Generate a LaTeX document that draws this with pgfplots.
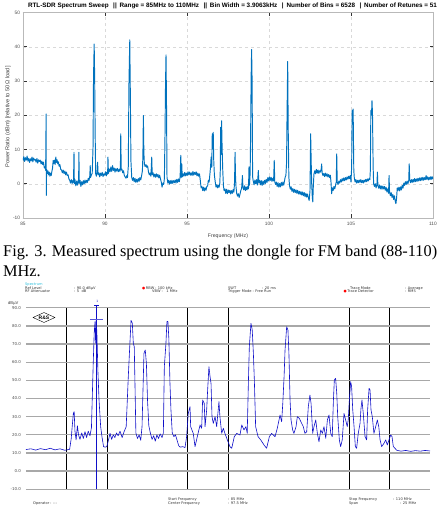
\documentclass[border=0pt]{standalone}
\usepackage{pgfplots}
\pgfplotsset{compat=1.18}
\usepackage{fontspec}
\setmainfont{Liberation Sans}
\newfontfamily\capfont{Liberation Serif}
\newfontfamily\dvfont{DejaVu Sans}
\usetikzlibrary{shapes.geometric}
\definecolor{mblue}{RGB}{0,114,189}
\definecolor{rsblue}{RGB}{15,15,200}
\definecolor{rsgrid}{RGB}{168,168,168}
\definecolor{rscyan}{RGB}{40,190,220}

\begin{document}
\begin{tikzpicture}[x=1pt,y=1pt]
\path[use as bounding box] (0pt,0pt) rectangle (440pt,512pt);

% ---------------- RTL-SDR sweep ----------------
\begin{axis}[
  at={(23pt,294pt)}, anchor=south west, scale only axis,
  width=410pt, height=205.5pt,
  xmin=85, xmax=110, ymin=-10, ymax=50,
  xtick={85,90,...,110}, ytick={-10,0,...,50},
  grid=major,
  major grid style={dashed, gray!30, line width=0.35pt},
  axis line style={gray!55, line width=0.4pt},
  tick align=inside, major tick length=3.5pt,
  tick style={black!80, line width=0.5pt},
  ticklabel style={font=\fontsize{4.8}{5}\selectfont, text=black!70},
  /pgf/number format/assume math mode=true,
  xticklabel style={yshift=-1pt},
  yticklabel style={xshift=0.5pt},
]
\addplot[mblue, line width=0.95pt, line join=round] coordinates {
(85.00,6.8) (85.05,7.9) (85.10,6.5) (85.15,7.6) (85.20,6.9) (85.25,8.1) (85.30,6.6) (85.35,7.4) (85.40,6.2) (85.45,7.3)
(85.50,6.7) (85.55,7.8) (85.60,6.4) (85.65,7.5) (85.70,6.9) (85.75,7.1) (85.80,6.3) (85.85,7.4) (85.90,6.0) (85.95,7.0)
(86.00,6.5) (86.05,6.9) (86.10,5.8) (86.15,6.6) (86.20,5.6) (86.25,6.3) (86.30,4.6) (86.35,5.0) (86.38,3.9)
(86.41,20.4) (86.42,-3.4) (86.44,4.2)
(86.48,3.0) (86.52,3.8) (86.56,2.6) (86.60,3.4) (86.64,2.2) (86.68,3.1) (86.72,2.4) (86.76,3.6) (86.80,4.5) (86.84,6.8)
(86.88,5.9) (86.92,6.9) (86.96,5.6) (87.00,7.8) (87.04,6.2) (87.08,7.0) (87.12,5.8) (87.16,6.4) (87.20,5.1) (87.25,5.6)
(87.30,4.2) (87.35,4.0) (87.40,3.2) (87.45,4.0) (87.50,3.0) (87.55,3.7) (87.60,2.6) (87.65,3.4) (87.70,2.4) (87.75,2.6)
(87.80,1.4) (87.85,1.0) (87.90,0.2) (87.95,1.2) (88.00,0.1) (88.05,1.0) (88.08,0.4) (88.11,9.2) (88.13,0.0) (88.17,1.2)
(88.22,-0.6) (88.27,0.8) (88.32,-0.4) (88.36,0.9) (88.39,0.2) (88.41,9.2) (88.43,0.1) (88.48,1.0) (88.53,-0.8) (88.58,0.6)
(88.63,-0.3) (88.68,0.9) (88.73,0.0) (88.78,1.1) (88.83,0.2) (88.88,1.0) (88.93,0.4) (88.98,1.6) (89.03,1.0) (89.07,2.2)
(89.10,5.3) (89.12,1.8) (89.17,2.6) (89.22,3.0) (89.27,10.7) (89.30,31) (89.34,40.8) (89.37,31) (89.40,14.6) (89.43,3.0)
(89.47,2.2) (89.52,3.4) (89.55,6.3) (89.58,2.6) (89.63,3.2) (89.68,2.0) (89.73,3.1) (89.78,2.4) (89.83,3.3) (89.88,2.1)
(89.93,2.9) (89.98,2.5) (90.03,3.5) (90.08,2.3) (90.12,3.4) (90.16,2.8) (90.18,7.8) (90.21,3.0) (90.26,4.3) (90.31,3.5)
(90.36,4.9) (90.41,3.6) (90.46,5.3) (90.51,3.9) (90.56,4.6) (90.61,3.4) (90.66,4.4) (90.71,3.7) (90.76,4.5) (90.81,3.5)
(90.86,4.2) (90.91,3.6) (90.94,5.0) (90.96,14.6) (90.99,4.0) (91.03,4.3) (91.08,3.2) (91.13,3.8) (91.18,2.4) (91.23,2.0)
(91.28,1.6) (91.33,2.4) (91.37,1.8) (91.42,5.0) (91.46,29) (91.51,42) (91.55,24) (91.58,6.8) (91.63,1.8) (91.68,1.0)
(91.73,1.8) (91.78,0.6) (91.83,1.6) (91.88,0.4) (91.93,1.3) (91.98,0.5) (92.03,1.5) (92.08,0.7) (92.13,1.8) (92.18,1.1)
(92.23,2.3) (92.28,3.8) (92.31,8.0) (92.34,19.9) (92.37,9.2) (92.40,5.8) (92.45,5.0) (92.50,5.6) (92.55,4.8) (92.60,5.2)
(92.65,3.5) (92.70,2.6) (92.75,3.1) (92.80,2.2) (92.85,7.8) (92.88,2.6) (92.93,3.2) (92.98,2.0) (93.03,2.8) (93.08,1.9)
(93.13,2.9) (93.18,2.0) (93.23,2.7) (93.28,1.7) (93.33,2.5) (93.38,1.5) (93.43,0.5) (93.48,-1.0) (93.53,0.2) (93.58,-0.2)
(93.62,1.5) (93.66,14.6) (93.69,29) (93.72,37.6) (93.75,24) (93.78,1.9) (93.83,0.2) (93.88,1.0) (93.93,-0.1) (93.98,0.9)
(94.03,0.0) (94.08,1.0) (94.13,0.1) (94.18,0.9) (94.23,0.3) (94.28,1.1) (94.33,0.2) (94.38,1.3) (94.43,0.4) (94.48,1.4)
(94.53,0.6) (94.58,2.0) (94.62,8.3) (94.65,1.8) (94.68,5.8) (94.71,2.0) (94.76,2.9) (94.81,2.2) (94.86,3.3) (94.91,2.3)
(94.96,3.1) (95.01,2.4) (95.06,3.5) (95.11,2.6) (95.16,3.4) (95.21,2.5) (95.26,3.2) (95.31,2.4) (95.36,3.6) (95.41,2.5)
(95.46,3.3) (95.51,2.7) (95.56,3.5) (95.61,2.3) (95.66,3.1) (95.71,2.2) (95.76,2.9) (95.81,1.0) (95.86,-1.2) (95.91,-0.8)
(95.96,-2.0) (96.01,-1.0) (96.06,-2.1) (96.11,-1.2) (96.16,-1.9) (96.21,-0.8) (96.26,-0.6) (96.30,1.0) (96.35,0.5) (96.40,3.0)
(96.44,5.2) (96.47,7.8) (96.51,4.8) (96.54,14.6) (96.57,10.2) (96.60,15.0) (96.63,6.8) (96.67,2.5) (96.72,0.6) (96.77,-1.0)
(96.82,-0.3) (96.87,-1.2) (96.92,-0.4) (96.96,-1.0) (97.00,0.2) (97.03,4.0) (97.05,16.5) (97.08,8.5) (97.11,18.4) (97.14,10.7)
(97.18,3.9) (97.22,-0.5) (97.26,-2.0) (97.31,-1.5) (97.36,-2.8) (97.41,-1.6) (97.46,-2.9) (97.51,-1.8) (97.56,-2.6) (97.61,-1.9)
(97.66,-3.0) (97.71,-2.0) (97.76,-2.8) (97.81,-1.7) (97.86,-2.5) (97.90,0.5) (97.93,9.2) (97.96,1.9) (97.99,-1.0) (98.03,-2.8)
(98.08,-3.6) (98.13,-2.9) (98.18,-4.0) (98.23,-3.1) (98.28,-2.0) (98.33,-1.4) (98.38,2.4) (98.41,-1.0) (98.46,-1.8) (98.51,-0.6)
(98.56,-2.0) (98.61,-0.9) (98.66,-1.8) (98.71,-0.7) (98.75,-1.5) (98.78,4.9) (98.81,-0.4) (98.85,3.0) (98.88,14.6) (98.91,31)
(98.94,39.2) (98.97,30) (99.00,2.0) (99.04,0.8) (99.09,-0.3) (99.14,1.1) (99.19,0.0) (99.24,1.2) (99.29,-0.4) (99.35,3.9)
(99.38,0.2) (99.43,1.0) (99.48,-0.3) (99.53,0.9) (99.58,-0.5) (99.63,0.8) (99.68,-0.2) (99.73,1.0) (99.78,0.1) (99.83,1.3)
(99.88,0.4) (99.93,1.8) (99.98,0.8) (100.03,2.0) (100.08,1.0) (100.13,1.9) (100.18,0.7) (100.23,1.6) (100.28,0.8) (100.32,6.8)
(100.35,0.6) (100.40,-0.2) (100.45,0.5) (100.50,-0.8) (100.55,0.3) (100.60,-1.0) (100.65,0.1) (100.70,-0.9) (100.75,0.4) (100.80,-0.6)
(100.85,0.5) (100.90,-0.4) (100.95,1.0) (100.99,2.0) (101.03,2.4) (101.07,6.0) (101.10,20) (101.14,35.7) (101.17,16.5) (101.21,2.0)
(101.25,-0.5) (101.30,-1.6) (101.35,-0.9) (101.40,-2.2) (101.45,-1.4) (101.50,-2.5) (101.55,-1.6) (101.60,-2.6) (101.65,-1.8) (101.70,-2.8)
(101.75,-1.9) (101.80,-3.0) (101.85,-2.2) (101.90,-3.1) (101.95,-2.3) (102.00,-3.3) (102.05,-2.4) (102.10,-3.5) (102.15,-2.6) (102.20,-3.8)
(102.25,-2.8) (102.30,-3.9) (102.35,-3.0) (102.40,-4.1) (102.45,-4.9) (102.50,-2.0) (102.54,14.6) (102.57,7.0) (102.60,0.5) (102.64,-4.0)
(102.67,-5.3) (102.70,-1.0) (102.74,2.8) (102.79,3.8) (102.84,2.9) (102.89,4.2) (102.94,3.1) (102.99,4.0) (103.04,3.0) (103.09,3.8)
(103.14,3.4) (103.19,4.5) (103.21,5.8) (103.24,3.2) (103.29,2.4) (103.34,3.0) (103.39,2.1) (103.44,3.1) (103.49,2.2) (103.54,2.9)
(103.59,2.0) (103.64,2.7) (103.69,1.8) (103.74,2.5) (103.78,0.5) (103.82,-2.9) (103.86,-1.2) (103.91,-2.0) (103.96,-0.8) (104.01,-1.5)
(104.06,-0.4) (104.10,0.5) (104.13,8.7) (104.16,0.5) (104.21,-0.2) (104.26,0.8) (104.31,0.2) (104.36,1.2) (104.41,0.5) (104.46,1.5)
(104.51,0.8) (104.56,1.7) (104.61,0.9) (104.66,1.8) (104.71,1.1) (104.76,2.0) (104.81,1.3) (104.86,2.2) (104.91,1.5) (104.96,2.4)
(105.00,0.5) (105.04,5.0) (105.07,21.4) (105.10,18.0) (105.13,21.8) (105.17,4.0) (105.20,1.8) (105.25,0.5) (105.30,1.2) (105.35,0.2)
(105.40,1.0) (105.45,0.3) (105.50,1.1) (105.55,0.4) (105.60,1.2) (105.65,0.3) (105.70,1.0) (105.75,0.2) (105.80,1.1) (105.85,0.5)
(105.90,1.3) (105.95,0.6) (106.00,1.4) (106.05,0.8) (106.10,1.5) (106.15,1.2) (106.18,4.0) (106.21,21.4) (106.25,20.0) (106.28,24.3)
(106.31,20.5) (106.35,4.9) (106.38,0.0) (106.43,-0.8) (106.48,0.0) (106.53,-1.2) (106.58,-0.3) (106.61,3.4) (106.64,-0.5) (106.69,-1.3)
(106.74,-0.4) (106.79,-1.5) (106.84,-0.6) (106.89,-1.6) (106.94,-0.7) (106.99,-1.5) (107.04,-0.8) (107.09,-1.9) (107.14,-1.0) (107.19,-2.4)
(107.24,-1.5) (107.29,-2.8) (107.32,2.4) (107.35,-2.2) (107.40,-3.5) (107.45,-2.6) (107.50,-4.0) (107.55,-3.1) (107.60,-4.6) (107.65,-3.5)
(107.70,-5.2) (107.74,-5.8) (107.78,-4.2) (107.82,-1.2) (107.87,-2.0) (107.92,-1.0) (107.97,-2.1) (108.02,-0.9) (108.07,-1.8) (108.12,-0.5)
(108.17,-1.3) (108.22,0.2) (108.27,-0.5) (108.32,0.6) (108.37,-0.2) (108.42,0.8) (108.47,0.0) (108.52,1.0) (108.55,5.8) (108.58,1.2)
(108.63,0.3) (108.68,1.2) (108.73,0.4) (108.78,1.3) (108.83,0.5) (108.88,1.5) (108.93,0.6) (108.98,1.4) (109.03,0.7) (109.08,1.6)
(109.13,0.8) (109.18,1.7) (109.23,0.9) (109.28,1.8) (109.33,1.0) (109.38,1.9) (109.43,1.0) (109.48,1.8) (109.53,1.2) (109.58,2.4)
(109.62,1.3) (109.67,2.0) (109.72,1.1) (109.77,1.9) (109.82,1.2) (109.87,2.1) (109.92,1.3) (109.96,2.0) (110.00,1.4)
};
\end{axis}

% titles and labels of the sweep
\node[anchor=center, inner sep=0] at (232.5pt,506.5pt) {\resizebox{409pt}{!}{\bfseries\fontsize{7}{8}\selectfont RTL-SDR Spectrum Sweep \ \,||\ \,Range = 85MHz to 110MHz \ \,||\ \,Bin Width = 3.9063kHz \ \,|\ \,Number of Bins = 6528 \ \,|\ \,Number of Retunes = 51}};
\node[anchor=center, inner sep=0, text=black!75] at (228pt,276pt) {\fontsize{5.2}{6}\selectfont Frequency (MHz)};
\node[anchor=center, inner sep=0, rotate=90, text=black!75] at (8pt,395pt) {\fontsize{5.6}{6}\selectfont Power Ratio (dBm) [relative to 50\,Ω load]};

% ---------------- caption ----------------
\node[anchor=base west, inner sep=0] at (3pt,255pt) {\capfont\fontsize{16.3}{19}\selectfont\makebox[434pt][s]{Fig. 3. Measured spectrum using the dongle for FM band (88-110)}};
\node[anchor=base west, inner sep=0] at (3pt,235.7pt) {\capfont\fontsize{16.3}{19}\selectfont MHz.};

% ---------------- spectrum analyzer ----------------
\begin{axis}[
  at={(26pt,22.7pt)}, anchor=south west, scale only axis,
  width=404pt, height=181.6pt,
  xmin=85, xmax=110, ymin=-10, ymax=90,
  ytick={-10,0,...,90},
  xtick={87.5,90,95,97.5,105,107.5}, xticklabels={},
  xmajorgrids, ymajorgrids,
  major grid style={},
  x grid style={black, line width=0.6pt},
  y grid style={rsgrid, line width=1.3pt},
  axis line style={draw=none}, tick style={draw=none},
  ticklabel style={font=\dvfont\fontsize{4}{5}\selectfont, text=black!70},
  /pgf/number format/assume math mode=true,
  /pgf/number format/fixed,
  /pgf/number format/fixed zerofill,
  /pgf/number format/precision=1,
  yticklabel style={xshift=-1.5pt},
  clip=false,
]
\addplot[rsblue, line width=0.6pt, line join=round] coordinates {
(85.00,11.9) (85.3,12.3) (85.6,11.6) (85.9,12.4) (86.2,11.8) (86.5,12.6) (86.8,11.7) (87.1,12.3) (87.4,11.5) (87.7,12.0)
(87.80,18) (87.85,23.6) (87.93,31.8) (87.98,32.8) (88.03,22) (88.10,17.2) (88.18,25) (88.25,20) (88.34,17.5) (88.45,21)
(88.55,18) (88.65,21.7) (88.75,18.5) (88.85,22) (88.96,19.5) (89.05,24) (89.16,59.4) (89.22,76) (89.27,82.3) (89.31,70.4)
(89.35,83.2) (89.39,75) (89.45,55) (89.52,39) (89.62,24.5) (89.70,19) (89.80,13.5) (89.90,13.2) (90.00,13.5) (90.10,17)
(90.20,20.8) (90.30,17.5) (90.40,20) (90.50,18.5) (90.60,21) (90.70,19.5) (90.82,22) (90.95,18.5) (91.06,21.5) (91.20,24.5)
(91.33,52) (91.40,65) (91.50,83) (91.58,81.5) (91.64,70.4) (91.70,68.5) (91.80,21) (91.90,18) (92.00,20) (92.10,17)
(92.18,24.5) (92.30,65) (92.38,66.7) (92.45,59.4) (92.52,39) (92.60,25) (92.70,20.8) (92.80,17.5) (92.90,19.5) (93.00,16.5)
(93.10,20) (93.20,18) (93.30,20.5) (93.42,18.5) (93.50,21) (93.56,57.5) (93.66,70.4) (93.72,82.3) (93.78,82.5) (93.84,73)
(93.91,48) (93.97,33.7) (94.05,21) (94.15,19) (94.25,20) (94.35,17) (94.45,14) (94.55,13.2) (94.70,13.5) (94.84,13)
(94.94,19) (95.04,31.8) (95.15,35.5) (95.19,24.5) (95.35,20.8) (95.46,13.5) (95.60,19) (95.77,25.4) (95.87,23.6) (95.93,39.2)
(96.03,37.3) (96.08,24.5) (96.18,33.7) (96.24,44.7) (96.32,57.5) (96.39,52) (96.45,48.3) (96.51,30) (96.59,26.3) (96.70,30)
(96.80,24.5) (96.94,38.3) (97.00,30) (97.11,20.8) (97.21,23.6) (97.31,20.8) (97.46,17.2) (97.62,13.5) (97.73,12.6) (97.89,19)
(98.04,20.8) (98.24,19.9) (98.35,25.4) (98.49,22.7) (98.61,24.5) (98.69,20.8) (98.76,48.3) (98.82,68.5) (98.92,81.4) (99.00,77.7)
(99.07,64.9) (99.13,50.2) (99.21,24.5) (99.36,19) (99.54,17) (99.73,14.4) (99.89,12.6) (100.06,19) (100.20,20.8) (100.41,19)
(100.55,23.6) (100.72,30.9) (100.82,27.2) (100.89,37.3) (100.97,52) (101.03,66.7) (101.13,79.5) (101.21,77.7) (101.27,64.9) (101.34,39.2)
(101.40,28.2) (101.50,22.7) (101.58,20.8) (101.71,24.5) (101.79,30) (101.91,29.1) (102.06,26.3) (102.16,24.5) (102.26,20.8) (102.37,21.7)
(102.47,35.5) (102.57,41.9) (102.64,37.3) (102.74,20.8) (102.82,24.5) (102.93,28.2) (103.03,20.8) (103.13,16.2) (103.24,22.7) (103.34,20.8)
(103.44,24.5) (103.55,18.1) (103.65,28.2) (103.75,30.9) (103.86,20.8) (103.95,19) (104.02,38.3) (104.08,50.2) (104.16,51.1) (104.23,42.8)
(104.29,30) (104.39,17.2) (104.47,13.5) (104.57,17.2) (104.68,31.8) (104.78,28.2) (104.88,24.5) (104.94,28.2) (105.01,39.2) (105.09,49.3)
(105.15,46.5) (105.22,33.7) (105.30,24.5) (105.38,13.5) (105.46,12.6) (105.56,20.8) (105.67,26.3) (105.73,34.6) (105.79,39.2) (105.87,31.8)
(105.98,19) (106.08,17.2) (106.14,33.7) (106.23,45.6) (106.29,44.7) (106.35,33.7) (106.43,30) (106.53,20.8) (106.64,24.5) (106.74,28.2)
(106.83,24.5) (106.91,17.2) (107.01,13.5) (107.15,15.3) (107.26,17.2) (107.36,14.4) (107.46,17.2) (107.57,19.9) (107.65,19) (107.73,13.5)
(107.83,12.6) (107.94,11.5) (108.2,11.0) (108.5,11.4) (108.8,10.9) (109.1,11.3) (109.4,11.0) (109.7,11.4) (110.0,11.1)
};
% marker M1 and its level line
\addplot[rsblue, line width=0.7pt] coordinates {(89.375,-10) (89.375,91.5)};
\addplot[rsblue!70, line width=0.6pt] coordinates {(88.96,83.6) (89.78,83.6)};
\addplot[rsblue, line width=0.5pt] coordinates {(89.22,91.3) (89.53,91.3)};
\node[font=\dvfont\fontsize{3}{3}\selectfont, text=rsblue, inner sep=0] at (axis cs:89.42,93.2) {1};
\node[anchor=south, inner sep=0, font=\dvfont\fontsize{4}{5}\selectfont, text=black!75] at (axis cs:84.2,91.3) {dBµV};
\end{axis}

% R&S logo
\node[draw, diamond, aspect=2.2, inner sep=0.6pt, line width=0.4pt, font=\bfseries\fontsize{5}{5}\selectfont] at (44pt,194.5pt) {R\&S};

% header lines of the analyzer screen
\begin{scope}[every node/.style={anchor=base west, inner sep=0, font=\dvfont\fontsize{3.6}{4}\selectfont, text=black!80}]
\node[text=rscyan] at (25pt,226pt) {Spectrum};
\node at (25pt,222.5pt) {Ref Level};      \node at (74pt,222.5pt) {: 90.0 dBµV};
\node at (25pt,219pt) {RF Attenuator};    \node at (74pt,219pt) {: 5 \ dB};
\node at (142pt,222.3pt) {{\color{red}●}\,RBW : 100 kHz};
\node at (152pt,219pt) {VBW : \ \ 1 MHz};
\node at (228pt,222.3pt) {SWT};            \node at (262pt,222.3pt) {: 20 ms};
\node at (228pt,219pt) {Trigger Mode : Free Run};
\node at (350pt,222.3pt) {Trace Mode};     \node at (405pt,222.3pt) {: Average};
\node at (343.5pt,219pt) {{\color{red}●}\,Trace Detector}; \node at (405pt,219pt) {: RMS};
% footer lines
\node at (33pt,8pt) {Operator : ---};
\node at (168pt,11.5pt) {Start Frequency};  \node at (228pt,11.5pt) {: 85 MHz};
\node at (168pt,7.5pt) {Center Frequency}; \node at (228pt,7.5pt) {: 97.5 MHz};
\node at (349pt,11.5pt) {Stop Frequency};   \node at (393pt,11.5pt) {: 110 MHz};
\node at (349pt,7.5pt) {Span};             \node at (400pt,7.5pt) {: 25 MHz};
\end{scope}
\end{tikzpicture}
\end{document}
